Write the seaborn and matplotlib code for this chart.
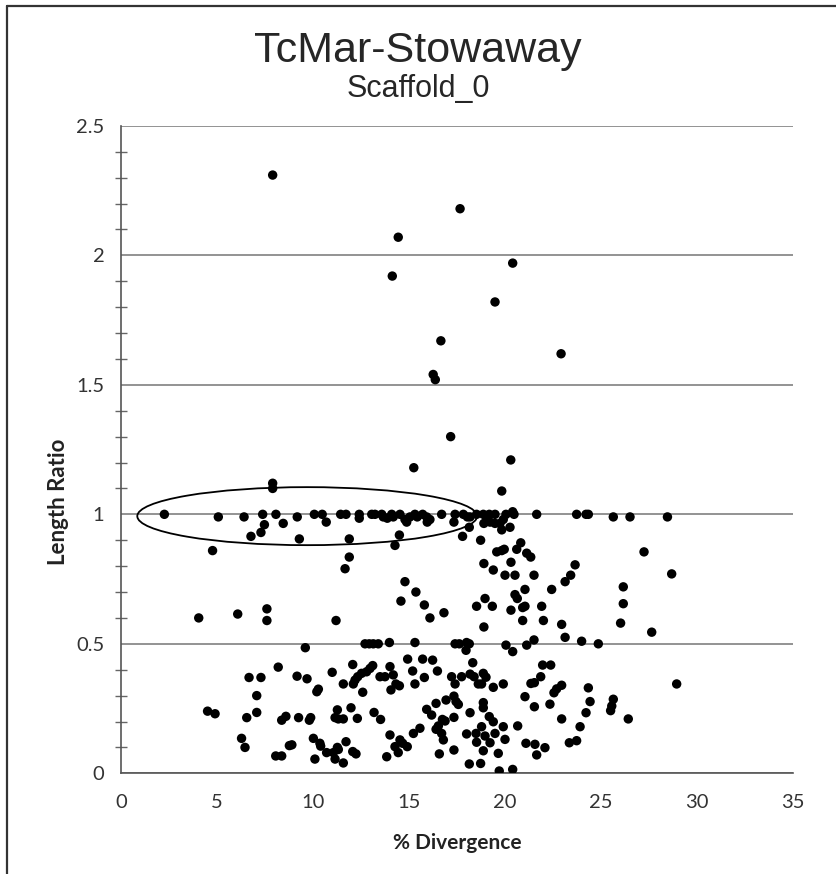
import numpy as np
import pandas as pd
import matplotlib
matplotlib.use("Agg")
import matplotlib.pyplot as plt
from matplotlib.patches import Ellipse
from matplotlib.lines import Line2D
from matplotlib.ticker import MultipleLocator
import seaborn as sns

# values: (% divergence, length ratio)
high_ratio = [(7.90, 2.31), (17.66, 2.18), (14.44, 2.07), (20.40, 1.97), (14.13, 1.92),
              (19.48, 1.82), (16.66, 1.67), (22.92, 1.62), (16.26, 1.54), (16.37, 1.52),
              (17.17, 1.30), (20.30, 1.21), (15.25, 1.18), (7.90, 1.12), (7.90, 1.10),
              (19.83, 1.09)]

near_full = [(2.26, 1.00), (5.07, 0.99), (6.41, 0.99), (7.38, 1.00), (8.07, 1.00), (9.18, 0.99),
             (10.07, 1.00), (10.48, 1.00), (11.44, 1.00), (11.72, 1.00), (7.47, 0.96), (8.45, 0.965),
             (10.69, 0.97), (7.29, 0.93), (6.77, 0.915), (9.29, 0.905), (11.89, 0.905),
             (12.41, 1.00), (12.41, 0.985), (13.06, 1.00), (13.23, 1.00), (13.58, 1.00), (13.66, 0.99),
             (13.87, 0.985), (14.10, 1.00), (14.18, 0.99), (14.53, 1.00), (14.79, 0.98), (14.88, 0.97),
             (15.05, 0.99), (15.31, 1.00), (15.43, 0.99), (15.71, 1.00), (15.92, 0.99), (15.95, 0.97),
             (16.09, 0.98), (16.70, 1.00), (17.40, 1.00), (17.34, 0.97), (17.83, 1.00), (18.04, 0.99),
             (18.18, 0.99), (18.14, 0.95), (18.52, 1.00), (18.87, 1.00), (19.04, 0.99), (19.18, 1.00),
             (18.90, 0.965), (19.22, 0.97), (19.48, 1.00), (19.48, 0.965), (19.74, 0.965), (19.83, 0.94),
             (19.91, 0.98), (20.05, 1.00), (20.26, 0.95), (20.40, 1.01), (20.47, 1.00), (21.65, 1.00),
             (14.50, 0.92), (17.79, 0.915),
             (23.73, 1.00), (24.22, 1.00), (24.34, 1.00), (25.64, 0.99), (26.51, 0.99), (28.46, 0.99)]

mid_ratio = [(4.77, 0.86), (11.89, 0.835), (11.67, 0.79), (4.05, 0.60), (6.08, 0.615), (7.60, 0.635),
             (7.60, 0.59), (11.20, 0.59), (9.60, 0.485),
             (14.27, 0.88), (18.73, 0.90), (19.57, 0.855), (19.83, 0.86), (19.96, 0.865), (20.61, 0.865),
             (20.82, 0.89), (21.13, 0.85), (21.34, 0.835), (18.90, 0.81), (19.39, 0.785), (20.31, 0.815),
             (20.00, 0.765), (20.52, 0.765), (21.51, 0.765), (22.43, 0.71), (21.04, 0.71), (14.79, 0.74),
             (15.36, 0.70), (14.58, 0.665), (15.80, 0.65), (16.09, 0.60), (16.82, 0.62), (18.96, 0.675),
             (18.52, 0.645), (19.34, 0.645), (20.52, 0.69), (20.64, 0.675), (20.92, 0.64), (21.04, 0.645),
             (20.31, 0.63), (21.91, 0.645), (20.92, 0.59), (22.00, 0.59), (18.90, 0.565), (21.51, 0.515),
             (21.13, 0.495), (20.40, 0.47), (20.05, 0.495), (12.71, 0.50), (12.93, 0.50), (13.14, 0.50),
             (13.40, 0.50), (13.98, 0.505), (15.31, 0.505), (17.40, 0.50), (17.62, 0.50), (18.00, 0.505),
             (18.14, 0.50), (17.97, 0.475),
             (27.24, 0.855), (23.65, 0.805), (23.42, 0.765), (23.13, 0.74), (28.68, 0.77), (26.16, 0.72),
             (26.16, 0.655), (26.02, 0.58), (27.64, 0.545), (22.95, 0.575), (23.13, 0.525), (23.99, 0.51),
             (24.86, 0.50)]

low_ratio = [(8.19, 0.41), (6.67, 0.37), (7.29, 0.37), (9.17, 0.375), (9.69, 0.365), (11.00, 0.39),
             (11.58, 0.345), (7.07, 0.30), (10.28, 0.325), (10.20, 0.315), (4.51, 0.24), (4.90, 0.23),
             (6.55, 0.215), (7.07, 0.235), (8.37, 0.205), (8.59, 0.22), (9.25, 0.215), (9.81, 0.205),
             (9.88, 0.215), (11.27, 0.245), (11.15, 0.215), (11.32, 0.21), (11.58, 0.21), (6.28, 0.135),
             (6.46, 0.10), (8.06, 0.067), (8.37, 0.067), (8.77, 0.107), (8.90, 0.11), (10.02, 0.135),
             (10.36, 0.116), (10.40, 0.105), (10.10, 0.055), (10.71, 0.08), (11.06, 0.08), (11.27, 0.10),
             (11.32, 0.092), (11.15, 0.055), (11.58, 0.04), (11.72, 0.122),
             (12.07, 0.42), (11.98, 0.253), (12.59, 0.313), (12.19, 0.36), (12.33, 0.373), (12.53, 0.386),
             (12.79, 0.392), (12.97, 0.405), (13.11, 0.416), (12.10, 0.345), (13.49, 0.373), (13.75, 0.373),
             (14.01, 0.412), (14.18, 0.38), (14.32, 0.345), (14.50, 0.338), (14.06, 0.322), (14.93, 0.441),
             (15.19, 0.395), (15.31, 0.345), (15.71, 0.441), (15.80, 0.37), (16.23, 0.437), (16.48, 0.395),
             (17.22, 0.373), (17.40, 0.345), (17.74, 0.373), (18.32, 0.427), (18.18, 0.383), (18.39, 0.373),
             (18.61, 0.345), (18.78, 0.345), (18.87, 0.386), (19.01, 0.371), (19.39, 0.332), (19.91, 0.345),
             (21.96, 0.418), (22.38, 0.418), (21.35, 0.347), (21.53, 0.35), (21.86, 0.373), (22.69, 0.326),
             (22.55, 0.311), (21.04, 0.296), (21.53, 0.257), (22.34, 0.267),
             (12.31, 0.212), (13.18, 0.235), (13.52, 0.208), (14.01, 0.148), (14.53, 0.129), (14.67, 0.116),
             (14.27, 0.103), (14.44, 0.08), (13.84, 0.064), (14.91, 0.103), (15.23, 0.154), (15.57, 0.174),
             (15.92, 0.247), (16.18, 0.225), (16.41, 0.27), (16.93, 0.283), (17.34, 0.298), (17.45, 0.277),
             (17.57, 0.266), (18.18, 0.234), (17.34, 0.216), (16.74, 0.208), (16.88, 0.202), (16.53, 0.183),
             (16.41, 0.17), (16.70, 0.154), (16.79, 0.129), (16.58, 0.075), (17.34, 0.09), (18.00, 0.152),
             (18.49, 0.154), (18.52, 0.12), (18.78, 0.18), (18.87, 0.273), (18.87, 0.253), (19.18, 0.219),
             (19.39, 0.199), (19.91, 0.18), (20.00, 0.131), (18.96, 0.144), (19.22, 0.118), (19.48, 0.154),
             (19.65, 0.077), (18.87, 0.087), (18.14, 0.036), (18.73, 0.038), (19.70, 0.009), (20.40, 0.015),
             (20.66, 0.183), (21.09, 0.116), (21.56, 0.112), (22.08, 0.099), (21.65, 0.071), (12.24, 0.075),
             (12.07, 0.084),
             (22.95, 0.34), (24.34, 0.33), (28.94, 0.345), (24.43, 0.277), (25.64, 0.286), (25.56, 0.26),
             (25.50, 0.242), (24.22, 0.234), (26.42, 0.21), (22.95, 0.21), (23.91, 0.18), (23.35, 0.118),
             (23.73, 0.126)]

points = high_ratio + near_full + mid_ratio + low_ratio
df = pd.DataFrame(points, columns=["divergence", "length_ratio"])

sns.set_style("white")
plt.rcParams["font.family"] = ["Lato", "DejaVu Sans"]

fig = plt.figure(figsize=(8.36, 8.74), dpi=100)
ax = fig.add_axes([0.1447, 0.1152, 0.8039, 0.7408])

sns.scatterplot(data=df, x="divergence", y="length_ratio", ax=ax,
                color="black", s=46, edgecolor="none", zorder=3)

# the hand-drawn ellipse round the full-length copies
ax.add_patch(Ellipse((9.7, 0.993), 17.7, 0.224, facecolor="none",
                     edgecolor="black", lw=1.3, zorder=4))

ax.set_xlim(0, 35)
ax.set_ylim(0, 2.5)
ax.xaxis.set_major_locator(MultipleLocator(5))
ax.yaxis.set_major_locator(MultipleLocator(0.5))
ax.yaxis.set_minor_locator(MultipleLocator(0.1))
ax.yaxis.grid(True, color="#8a8a8a", lw=1.3)
ax.set_axisbelow(True)

for s in ["top", "right"]:
    ax.spines[s].set_visible(False)
for s in ["left", "bottom"]:
    ax.spines[s].set_color("#555555")
    ax.spines[s].set_linewidth(1.2)

ax.tick_params(axis="y", which="major", direction="out", length=6, width=1.2,
               color="#8a8a8a", labelsize=14.5, labelcolor="#333333", pad=6)
ax.tick_params(axis="y", which="minor", direction="inout", length=9, width=1.0,
               color="#666666", left=True)
ax.tick_params(axis="x", which="major", direction="out", length=6, width=1.0,
               color="#666666", labelsize=14.5, labelcolor="#333333", pad=9)
ax.set_yticks([0, 0.5, 1, 1.5, 2, 2.5])
ax.set_yticklabels(["0", "0.5", "1", "1.5", "2", "2.5"])

ax.set_xlabel("% Divergence", fontsize=15, fontweight="bold", color="#222222", labelpad=16)
ax.set_ylabel("Length Ratio", fontsize=16, fontweight="bold", color="#222222")
ax.yaxis.set_label_coords(-0.078, 0.42)

fig.text(0.5, 0.929, "TcMar-Stowaway", ha="center", va="baseline", fontsize=31,
         family=["Liberation Sans Narrow", "Liberation Sans"])
fig.text(0.5, 0.889, "Scaffold_0", ha="center", va="baseline", fontsize=22,
         family=["Liberation Sans Narrow", "Liberation Sans"])

# frame lines along the top and left edge of the picture
fig.add_artist(Line2D([7 / 836, 1], [1 - 6 / 874, 1 - 6 / 874], color="#333333", lw=1.6))
fig.add_artist(Line2D([7 / 836, 7 / 836], [0, 1 - 6 / 874], color="#333333", lw=1.6))

fig.savefig("out.png", dpi=100, facecolor="white")
